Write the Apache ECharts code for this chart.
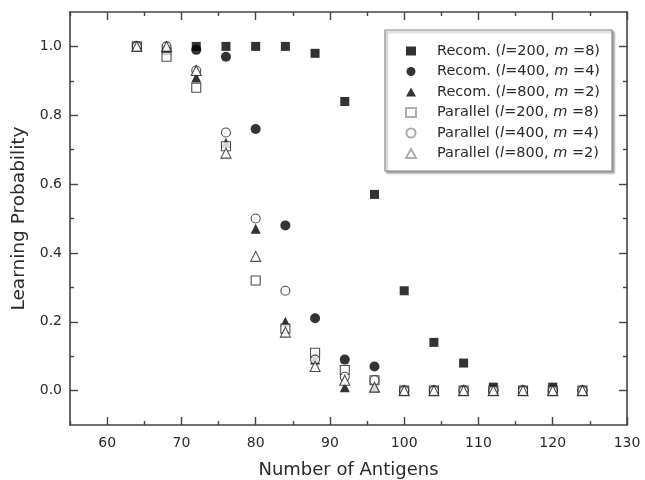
<!DOCTYPE html>
<html>
<head>
<meta charset="utf-8">
<script src="https://cdn.jsdelivr.net/npm/echarts@6/dist/echarts.min.js"></script>
<style>html,body{margin:0;padding:0;background:#fff}#c{width:645px;height:480px}</style>
</head>
<body>
<div id="c"></div>
<script>
const antigens = [64, 68, 72, 76, 80, 84, 88, 92, 96, 100, 104, 108, 112, 116, 120, 124];
const recom200 = [1.0, 0.99, 1.0, 1.0, 1.0, 1.0, 0.98, 0.84, 0.57, 0.29, 0.14, 0.08, 0.01, 0.0, 0.01, 0.0];
const recom400 = [1.0, 0.99, 0.99, 0.97, 0.76, 0.48, 0.21, 0.09, 0.07, 0.0, 0.0, 0.0, 0.0, 0.0, 0.0, 0.0];
const recom800 = [1.0, 0.99, 0.91, 0.72, 0.47, 0.20, 0.09, 0.01, 0.01, 0.0, 0.0, 0.0, 0.0, 0.0, 0.0, 0.0];
const parallel200 = [1.0, 0.97, 0.88, 0.71, 0.32, 0.18, 0.11, 0.06, 0.03, 0.0, 0.0, 0.0, 0.0, 0.0, 0.0, 0.0];
const parallel400 = [1.0, 1.0, 0.93, 0.75, 0.50, 0.29, 0.09, 0.04, 0.03, 0.0, 0.0, 0.0, 0.0, 0.0, 0.0, 0.0];
const parallel800 = [1.0, 1.0, 0.93, 0.69, 0.39, 0.17, 0.07, 0.03, 0.01, 0.0, 0.0, 0.0, 0.0, 0.0, 0.0, 0.0];
const seriesNames = ['Recom. (l=200, m=8)', 'Recom. (l=400, m=4)', 'Recom. (l=800, m=2)',
                     'Parallel (l=200, m=8)', 'Parallel (l=400, m=4)', 'Parallel (l=800, m=2)'];
const legendRich = ['Recom. ({i|l}=200, {i|m} =8)', 'Recom. ({i|l}=400, {i|m} =4)', 'Recom. ({i|l}=800, {i|m} =2)',
                    'Parallel ({i|l}=200, {i|m} =8)', 'Parallel ({i|l}=400, {i|m} =4)', 'Parallel ({i|l}=800, {i|m} =2)'];
const xMajorTicks = [60, 70, 80, 90, 100, 110, 120, 130];
const xMinorTicks = [55, 65, 75, 85, 95, 105, 115, 125];
const yMajorTicks = [0.0, 0.2, 0.4, 0.6, 0.8, 1.0];
const yMinorTicks = [0.1, 0.3, 0.5, 0.7, 0.9];

const FONT = 'DejaVu Sans';
const axisColor = '#444';
const textColor = '#2a2a2a';
const pair = arr => antigens.map((x, i) => [x, arr[i]]);
const filled = (name, arr, sym, size) => ({
  name, type: 'scatter', data: pair(arr), symbol: sym, symbolSize: size,
  itemStyle: { color: '#000' }, emphasis: { disabled: true }
});
const open = (name, arr, sym, size) => ({
  name, type: 'scatter', data: pair(arr), symbol: sym, symbolSize: size,
  itemStyle: { color: '#fff', borderColor: '#222', borderWidth: 1.1 }, emphasis: { disabled: true }
});

function xAx(pos, ticks, len, withLine, extra) {
  return Object.assign({
    type: 'value', min: 55, max: 130, interval: 5, position: pos,
    axisLine: { show: withLine, onZero: false, lineStyle: { color: axisColor, width: 1.6 } },
    axisTick: { show: true, inside: true, length: len, customValues: ticks, lineStyle: { color: axisColor, width: 1.4 } },
    axisLabel: { show: false },
    splitLine: { show: false }
  }, extra || {});
}
function yAx(pos, ticks, len, withLine, extra) {
  return Object.assign({
    type: 'value', min: -0.1, max: 1.1, interval: 0.1, position: pos,
    axisLine: { show: withLine, onZero: false, lineStyle: { color: axisColor, width: 1.6 } },
    axisTick: { show: true, inside: true, length: len, customValues: ticks, lineStyle: { color: axisColor, width: 1.4 } },
    axisLabel: { show: false },
    splitLine: { show: false }
  }, extra || {});
}

const chart = echarts.init(document.getElementById('c'), null, { renderer: 'canvas' });
chart.setOption({
  animation: false,
  backgroundColor: '#fff',
  grid: { left: 70, right: 18, top: 12, bottom: 55, containLabel: false, outerBoundsMode: 'none' },
  legend: {
    orient: 'vertical', left: 385, top: 30,
    padding: [13.5, 12, 10, 20],
    itemGap: 5.5, itemWidth: 10, itemHeight: 9,
    backgroundColor: '#fff',
    borderColor: '#888', borderWidth: 1.2,
    shadowColor: 'rgba(0,0,0,0.35)', shadowBlur: 2, shadowOffsetX: 2, shadowOffsetY: 2,
    data: seriesNames.map((n, i) => i < 3 ? { name: n } : { name: n, itemStyle: { borderColor: '#999' } }),
    formatter: name => legendRich[seriesNames.indexOf(name)],
    textStyle: {
      fontFamily: FONT, fontSize: 14.5, color: textColor, padding: [0, 0, 0, 16],
      rich: { i: { fontFamily: FONT, fontSize: 14.5, color: textColor, fontStyle: 'italic' } }
    }
  },
  xAxis: [
    xAx('bottom', xMajorTicks, 8, true, {
      axisLabel: { show: true, margin: 11, fontFamily: FONT, fontSize: 14, color: textColor, customValues: xMajorTicks },
      name: 'Number of Antigens', nameLocation: 'middle', nameGap: 36,
      nameTextStyle: { fontFamily: FONT, fontSize: 18, color: textColor }
    }),
    xAx('bottom', xMinorTicks, 4, false),
    xAx('top', xMajorTicks, 8, true),
    xAx('top', xMinorTicks, 4, false)
  ],
  yAxis: [
    yAx('left', yMajorTicks, 8, true, {
      axisLabel: { show: true, margin: 8, fontFamily: FONT, fontSize: 14, color: textColor, customValues: yMajorTicks,
                   formatter: v => v.toFixed(1) },
      name: 'Learning Probability', nameLocation: 'middle', nameGap: 38,
      nameTextStyle: { fontFamily: FONT, fontSize: 18.5, color: textColor }
    }),
    yAx('left', yMinorTicks, 4, false),
    yAx('right', yMajorTicks, 8, true),
    yAx('right', yMinorTicks, 4, false)
  ],
  series: [
    filled(seriesNames[0], recom200, 'rect', 9),
    filled(seriesNames[1], recom400, 'circle', 10),
    filled(seriesNames[2], recom800, 'triangle', 10),
    open(seriesNames[3], parallel200, 'rect', 9),
    open(seriesNames[4], parallel400, 'circle', 9),
    open(seriesNames[5], parallel800, 'triangle', 10)
  ]
});
</script>
</body>
</html>
